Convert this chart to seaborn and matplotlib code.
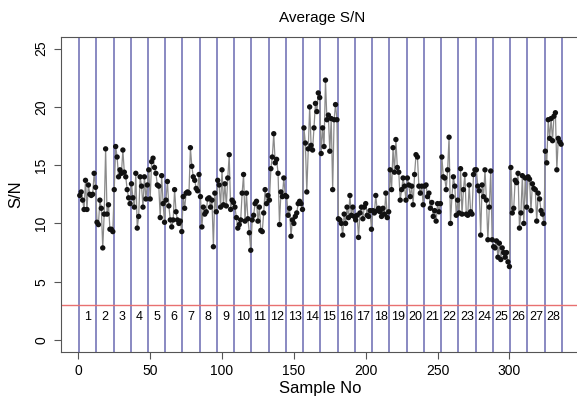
import numpy as np
import pandas as pd
import matplotlib
matplotlib.use("Agg")
import matplotlib.pyplot as plt
import seaborn as sns

# S/N values per group (12 samples per group, 28 groups)
g01 = [12.4, 12.7, 12.0, 11.2, 13.7, 11.2, 13.3, 12.5, 12.4, 12.5, 14.3, 13.1]
g02 = [10.1, 9.9, 12.0, 11.3, 7.9, 10.8, 16.4, 10.8, 11.6, 9.5, 9.5, 9.3]
g03 = [12.9, 16.6, 15.7, 14.0, 14.6, 14.3, 16.3, 14.4, 14.0, 12.9, 12.2, 11.7]
g04 = [13.4, 12.2, 11.4, 14.3, 9.6, 10.6, 14.0, 13.2, 11.4, 14.0, 12.1, 13.3]
g05 = [14.6, 12.1, 15.3, 15.6, 14.8, 14.3, 13.3, 13.2, 10.5, 14.1, 11.7, 10.1]
g06 = [12.0, 13.6, 11.5, 10.3, 9.7, 10.3, 12.9, 11.0, 10.3, 10.0, 10.2, 9.3]
g07 = [12.3, 11.3, 12.6, 12.7, 12.6, 16.5, 14.9, 14.0, 13.7, 13.0, 12.8, 14.2]
g08 = [12.3, 9.7, 11.4, 10.8, 11.0, 12.1, 12.2, 11.4, 12.0, 8.0, 12.6, 11.0]
g09 = [13.7, 13.3, 11.4, 14.6, 11.6, 13.4, 11.5, 13.9, 15.9, 11.2, 12.0, 11.8]
g10 = [11.4, 10.5, 9.6, 9.9, 10.3, 12.6, 14.2, 10.2, 12.6, 10.4, 9.2, 7.7]
g11 = [10.3, 10.7, 11.7, 11.9, 10.2, 11.4, 9.4, 9.3, 10.9, 12.9, 11.7, 12.4]
g12 = [12.0, 14.7, 15.7, 17.7, 15.2, 15.5, 14.3, 9.9, 12.7, 12.3, 13.9, 12.4]
g13 = [12.3, 10.7, 11.3, 8.9, 10.3, 10.0, 10.6, 10.9, 11.7, 11.9, 11.7, 11.2]
g14 = [18.2, 16.9, 12.7, 16.4, 20.0, 16.7, 16.3, 18.2, 20.3, 19.6, 21.2, 20.8]
g15 = [16.0, 18.2, 16.6, 22.3, 18.9, 19.3, 16.2, 19.0, 12.9, 18.9, 20.2, 18.9]
g16 = [10.4, 10.3, 10.0, 9.0, 10.8, 10.0, 11.4, 10.5, 12.4, 10.7, 11.4, 10.6]
g17 = [10.3, 10.7, 8.8, 10.9, 11.4, 10.4, 11.4, 11.7, 10.7, 10.6, 11.1, 9.5]
g18 = [11.1, 10.9, 12.4, 11.1, 11.3, 11.0, 10.6, 11.3, 10.8, 12.6, 10.5, 11.0]
g19 = [14.6, 12.9, 16.5, 14.4, 17.2, 14.8, 14.4, 12.0, 12.9, 13.9, 13.2, 12.0]
g20 = [13.9, 13.3, 12.3, 13.2, 11.6, 14.2, 15.9, 15.7, 13.2, 12.6, 13.2, 11.6]
g21 = [13.2, 13.3, 12.3, 12.6, 11.3, 11.8, 10.6, 11.1, 10.2, 11.7, 11.0, 11.7]
g22 = [15.7, 14.0, 13.9, 12.9, 14.6, 17.4, 10.0, 12.3, 14.0, 13.2, 10.7, 12.0]
g23 = [10.9, 14.7, 10.8, 12.9, 14.2, 10.8, 10.7, 13.3, 11.0, 10.8, 14.2, 14.6]
g24 = [14.6, 13.2, 12.8, 9.0, 13.3, 12.3, 14.6, 12.0, 8.6, 11.4, 14.5, 8.6]
g25 = [8.0, 7.9, 8.5, 7.1, 8.3, 6.9, 7.9, 7.5, 7.1, 7.5, 6.7, 6.3]
g26 = [14.8, 10.9, 11.3, 13.7, 13.5, 14.3, 9.6, 10.9, 14.1, 10.0, 13.9, 11.4]
g27 = [14.0, 13.8, 11.1, 13.4, 13.0, 12.9, 10.2, 12.6, 12.1, 11.1, 10.8, 10.0]
g28 = [16.2, 15.2, 18.9, 17.3, 19.0, 17.1, 19.2, 19.5, 14.6, 17.3, 17.0, 16.8]

groups = [g01, g02, g03, g04, g05, g06, g07, g08, g09, g10, g11, g12, g13, g14,
          g15, g16, g17, g18, g19, g20, g21, g22, g23, g24, g25, g26, g27, g28]
group_labels = [str(i) for i in range(1, 29)]
group_size = 12
threshold = 3
xticks = [0, 50, 100, 150, 200, 250, 300]
yticks = [0, 5, 10, 15, 20, 25]

sn = np.concatenate(groups)
sample_no = np.arange(1, len(sn) + 1)
df = pd.DataFrame({"Sample No": sample_no, "S/N": sn})

sns.set_style("ticks")
plt.rcParams["font.family"] = ["Liberation Sans", "DejaVu Sans"]
plt.rcParams["text.color"] = "black"
plt.rcParams["axes.labelcolor"] = "black"
plt.rcParams["xtick.color"] = "black"
plt.rcParams["ytick.color"] = "black"

fig = plt.figure(figsize=(5.77, 4.03), dpi=100)
ax = fig.add_axes([60.5 / 577, 1 - 351.6 / 403, (580.4 - 60.5) / 577, (351.6 - 37) / 403])

n_groups = len(groups)
for k in range(n_groups + 1):
    ax.axvline(0.5 + group_size * k, color="#6A6AB2", lw=1.1, zorder=1)
for k, lab in enumerate(group_labels):
    ax.text(0.5 + group_size * k + group_size / 2, 2.0, lab, ha="center", va="center",
            fontsize=9, color="black", zorder=3)
ax.axhline(threshold, color="#E87070", lw=1.0, zorder=1)

sns.lineplot(data=df, x="Sample No", y="S/N", ax=ax, color="#8a8a8a", lw=0.9, zorder=2)
sns.scatterplot(data=df, x="Sample No", y="S/N", ax=ax, color="#111111", s=15,
                edgecolor="none", zorder=3)

ax.set_xlim(-12.4, 349.4)
ax.set_ylim(-1, 26)
ax.set_xticks(xticks)
ax.set_yticks(yticks)
ax.tick_params(axis="both", labelsize=10, length=5, width=0.8, color="#555555",
               labelcolor="black")
ax.tick_params(axis="x", pad=4)
ax.tick_params(axis="y", pad=4)
for lab in ax.get_yticklabels():
    lab.set_rotation(90)
    lab.set_va("center")
for sp in ax.spines.values():
    sp.set_color("#555555")
    sp.set_linewidth(0.8)
ax.set_xlabel("Sample No", fontsize=12, labelpad=2)
ax.set_ylabel("S/N", fontsize=12, labelpad=8)
fig.text(322 / 577, 1 - 18 / 403, "Average S/N", ha="center", va="center", fontsize=11)

fig.savefig("out.png", dpi=100)
